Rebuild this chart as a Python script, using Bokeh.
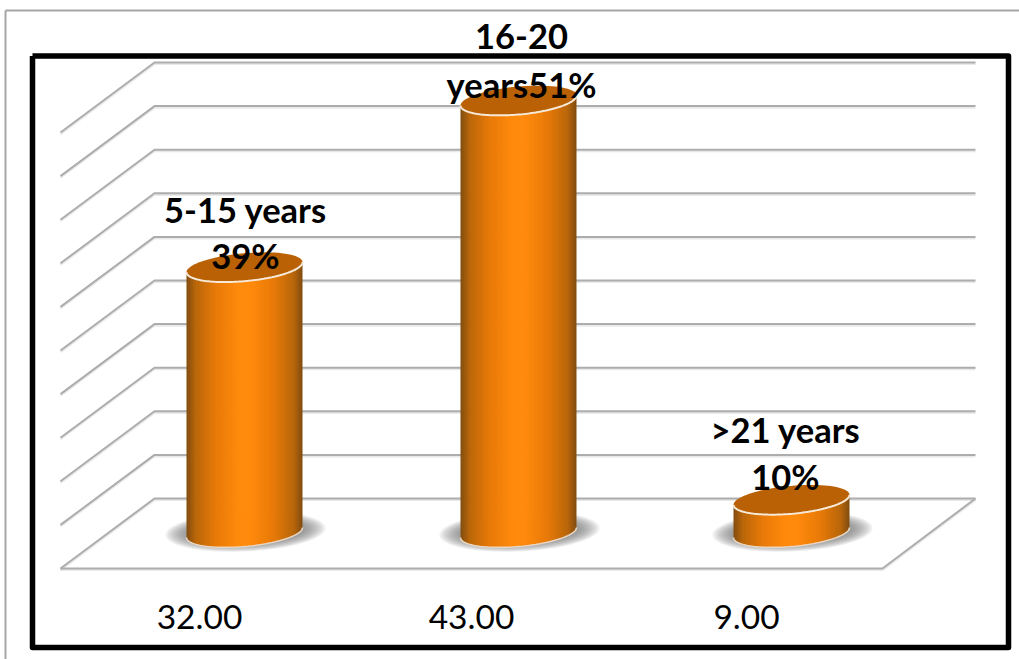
import numpy as np
from bokeh.core.properties import value
from bokeh.embed import file_html
from bokeh.models import ColumnDataSource, Range1d
from bokeh.plotting import figure
from bokeh.resources import INLINE

# Chart data
categories = ["5-15 years", "16-20 years", ">21 years"]
counts = [32.00, 43.00, 9.00]
count_labels = ["32.00", "43.00", "9.00"]
name_lines = ["5-15 years", "16-20", ">21 years"]
share_lines = ["39%", "years51%", "10%"]

W, H = 1019, 659

# Layout of the 3D frame, in page units
GRID_STEPS = 10
FRONT_X, BACK_X, BACK_RIGHT_X, FRONT_RIGHT_X = 60, 154, 975, 882
BACK_FLOOR_Y, FRONT_FLOOR_Y = 498, 568
STEP = 43.6
DEPTH_DY = FRONT_FLOOR_Y - BACK_FLOOR_Y

# Cylinder geometry and value scale.  The column heights are not linear in
# the counts, so counts go through a power scale with 43 at the full height.
BAR_CX = [244, 518, 791]
BAR_A, BAR_B, SKEW = 58, 14, -5 / 58
BASE_Y = 532
FULL_HEIGHT = 432
SCALE_POWER = 1.65

# Label placement
LABEL_X = [245, 521, 785]
NAME_Y = [209, 36, 429]
SHARE_Y = [255, 84, 476]
COUNT_X = [199, 471, 746]
COUNT_Y = 616


def bar_height(v):
    return FULL_HEIGHT * (v / max(counts)) ** SCALE_POWER


p = figure(width=W, height=H, output_backend="svg", toolbar_location=None,
           x_range=Range1d(0, W), y_range=Range1d(H, 0),
           x_axis_type=None, y_axis_type=None, min_border=0,
           outline_line_color=None, background_fill_color="white",
           border_fill_color="white")
p.grid.visible = False

# Outer hairline of the chart area
p.line([5, 5], [10, H], line_color="#a6a6a6", line_width=2)
p.line([5, W], [10, 10], line_color="#a6a6a6", line_width=2)

# Walls and floor lines, with a faint shadow under each line
GRID = "#adadad"
for offset, color, lw, alpha in ((1.6, "#cfcfcf", 2, 0.45), (0, GRID, 2, 1)):
    for i in range(GRID_STEPS + 1):
        y = BACK_FLOOR_Y - i * STEP + offset
        p.line([FRONT_X, BACK_X, BACK_RIGHT_X], [y + DEPTH_DY, y, y],
               line_color=color, line_width=lw, line_alpha=alpha)
    p.line([FRONT_X, FRONT_RIGHT_X, BACK_RIGHT_X],
           [FRONT_FLOOR_Y + offset, FRONT_FLOOR_Y + offset, BACK_FLOOR_Y + offset],
           line_color=color, line_width=lw, line_alpha=alpha)


def ellipse_arc(cx, cy, a, b, skew, start, stop, n=80):
    th = np.linspace(start, stop, n)
    x = cx + a * np.cos(th)
    y = cy + skew * a * np.cos(th) + b * np.sin(th)
    return x, y


def mix(c1, c2, t):
    return tuple(c1[i] + (c2[i] - c1[i]) * t for i in range(3))


STOPS = [(0.0, (255, 138, 12)), (0.12, (255, 138, 12)), (0.5, (232, 122, 8)),
         (0.85, (184, 102, 10)), (1.0, (128, 76, 16))]


def side_color(t):
    for (t0, c0), (t1, c1) in zip(STOPS, STOPS[1:]):
        if t <= t1:
            r, g, b = mix(c0, c1, (t - t0) / (t1 - t0))
            return f"#{int(r):02x}{int(g):02x}{int(b):02x}"
    return "#804c10"


# Soft contact shadows, built from stacked translucent ellipses
for cx in BAR_CX:
    for k in range(10):
        x, y = ellipse_arc(cx + 1, BASE_Y - 1, 80 - k * 2.2, 20 - k * 0.8, SKEW / 2, 0, 2 * np.pi)
        p.patch(x, y, fill_color="#777777", fill_alpha=0.11, line_color=None)

# Cylinders: the shaded side is a run of thin vertical slices, capped by an ellipse
SLICES = 72
for cx, v in zip(BAR_CX, counts):
    top_y = BASE_Y - bar_height(v)
    edges = np.linspace(-BAR_A, BAR_A, SLICES + 1)
    xs, ys, colors = [], [], []
    for x0, x1 in zip(edges[:-1], edges[1:]):
        mid = (x0 + x1) / 2
        d = np.linspace(x0, min(x1 + 0.7, BAR_A), 5)
        arc = BASE_Y + SKEW * d + BAR_B * np.sqrt(np.clip(1 - (d / BAR_A) ** 2, 0, 1))
        xs.append(list(cx + d) + [cx + d[-1], cx + d[0]])
        ys.append(list(arc) + [top_y + SKEW * d[-1], top_y + SKEW * d[0]])
        colors.append(side_color(abs(mid) / BAR_A))
    p.patches(xs, ys, fill_color=colors, line_color=None)

    x, y = ellipse_arc(cx, BASE_Y, BAR_A, BAR_B, SKEW, 0, np.pi)
    p.line(x, y, line_color="#e9d6c2", line_width=1.5)

    x, y = ellipse_arc(cx, top_y, BAR_A, BAR_B, SKEW, 0, 2 * np.pi)
    p.patch(x, y, fill_color="#b96104", line_color=None)
    x, y = ellipse_arc(cx, top_y, BAR_A, BAR_B, SKEW, 0, np.pi)
    p.line(x, y, line_color="#f7ead9", line_width=2)

# Two-line labels above the cylinders
labels = ColumnDataSource(dict(x=LABEL_X, name_y=NAME_Y, share_y=SHARE_Y,
                               name=name_lines, share=share_lines))
for y_col, text_col in (("name_y", "name"), ("share_y", "share")):
    p.text(x="x", y=y_col, text=text_col, source=labels,
           text_font=value("Lato"), text_font_style="bold", text_font_size="34.5px",
           text_align="center", text_baseline="middle", text_color="black")

# Count labels along the front of the floor
p.text(x=COUNT_X, y=[COUNT_Y] * 3, text=count_labels, text_font=value("Lato"),
       text_font_size="33.5px", text_align="center", text_baseline="middle",
       text_color="black")

# Heavy black frame around the plot
p.line([32, 1008, 1008, 32, 32], [55.5, 55.5, 647, 647, 55.5], line_color="black",
       line_width=5.5, line_join="round")

open("out.html", "w").write(file_html(p, INLINE))
